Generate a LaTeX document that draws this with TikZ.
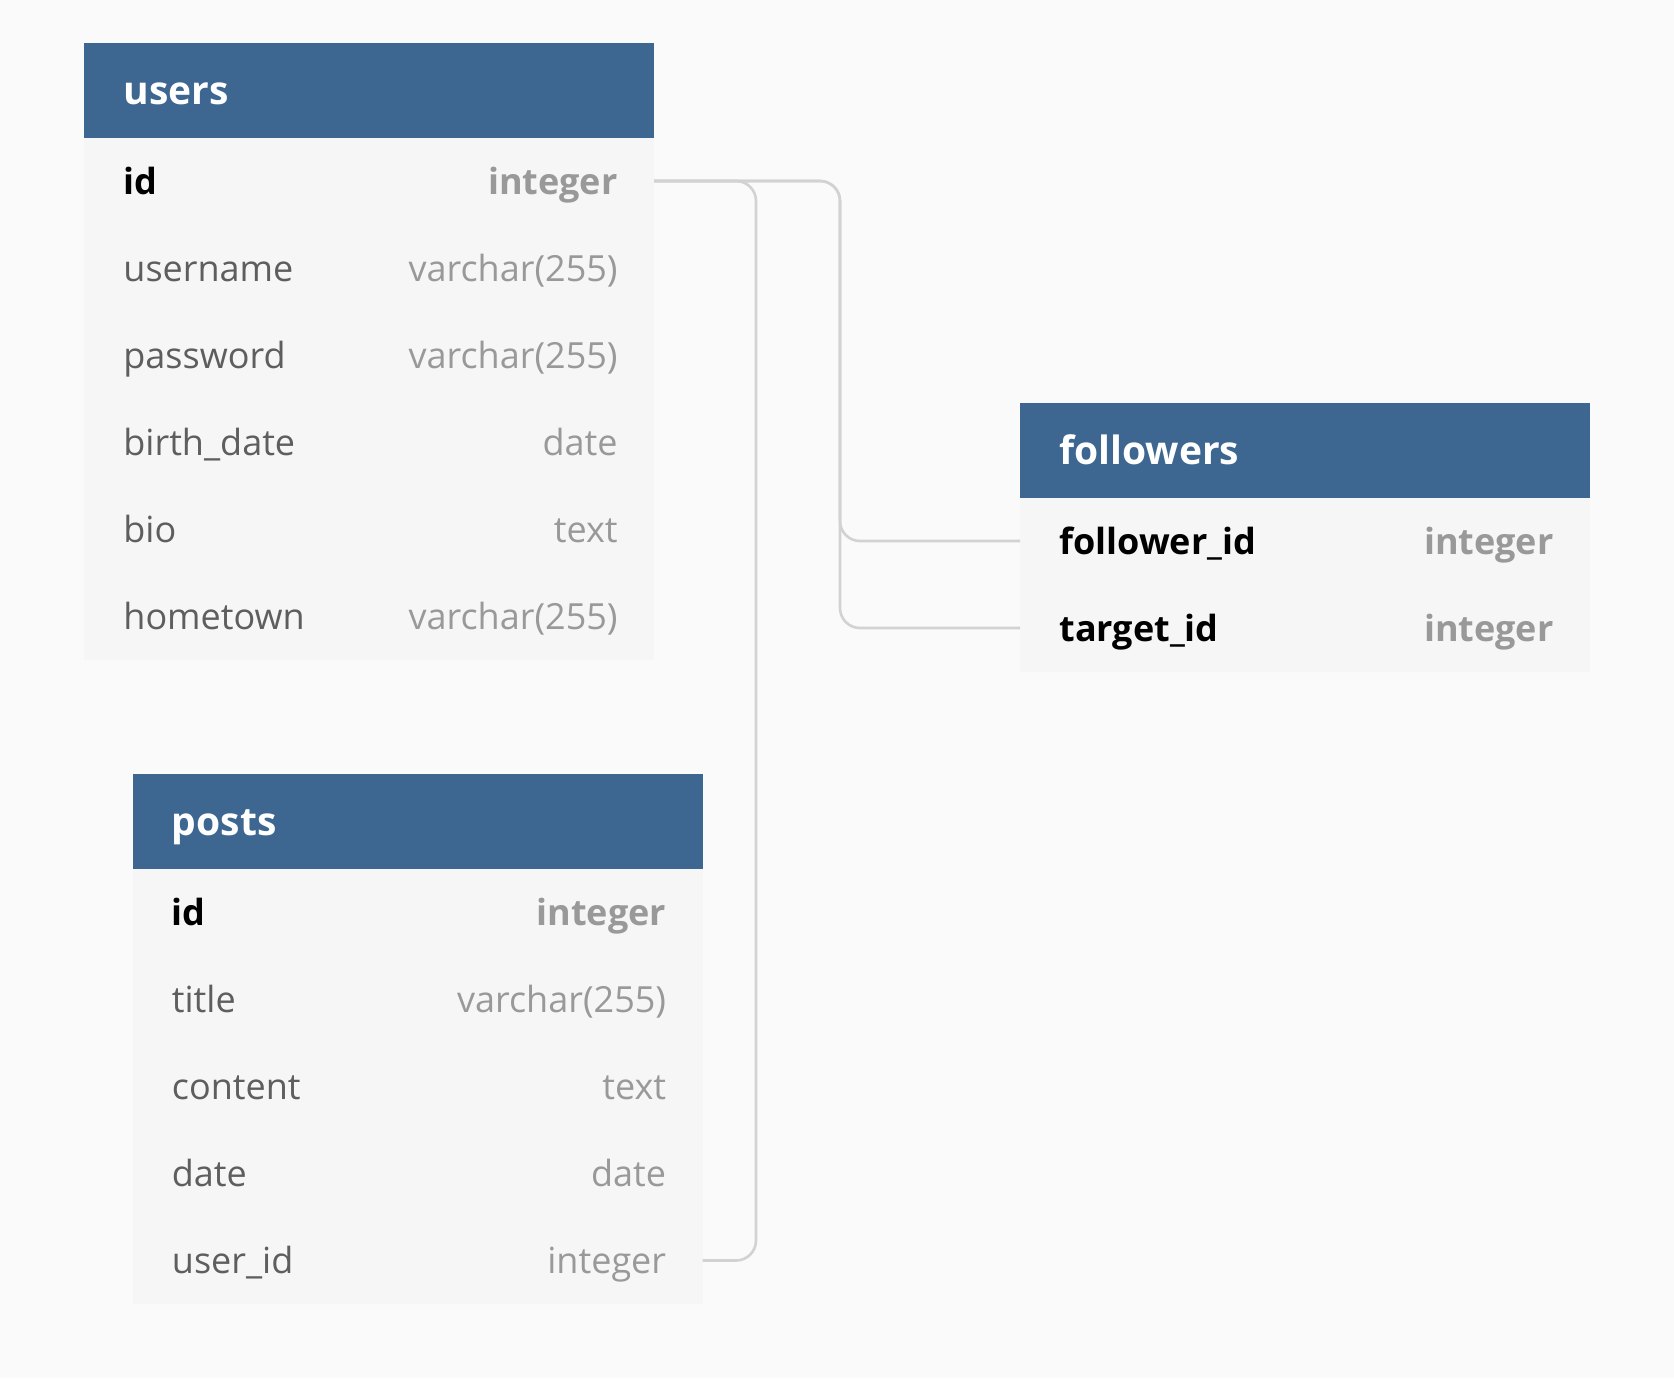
\documentclass[tikz,border=0pt]{standalone}
\usepackage{fontspec}
\setmainfont{Open Sans}
\usetikzlibrary{calc}
\definecolor{bgcol}{HTML}{FAFAFA}
\definecolor{hdrblue}{HTML}{3D6791}
\definecolor{rowbg}{HTML}{F6F6F6}
\definecolor{fieldgray}{HTML}{5E5E5E}
\definecolor{typegray}{HTML}{999999}
\definecolor{linkgray}{HTML}{D2D2D2}
\tikzset{
  hdr/.style={fill=hdrblue, draw=none, minimum width=285pt, minimum height=47.5pt, anchor=north west, inner sep=0pt, outer sep=0pt},
  rowbox/.style={fill=rowbg, draw=none, minimum width=285pt, minimum height=43.5pt, anchor=north west, inner sep=0pt, outer sep=0pt},
  htext/.style={anchor=base west, inner sep=0pt, text=white, font=\fontsize{19.5}{22}\selectfont\bfseries},
  fname/.style={anchor=base west, inner sep=0pt, text=fieldgray, font=\fontsize{18}{20}\selectfont},
  ftype/.style={anchor=base east, inner sep=0pt, text=typegray, font=\fontsize{18}{20}\selectfont},
  kname/.style={fname, text=black, font=\fontsize{18}{20}\selectfont\bfseries},
  ktype/.style={ftype, font=\fontsize{18}{20}\selectfont\bfseries},
  link/.style={draw=linkgray, line width=1.3pt, rounded corners=10pt}
}
% #1 row node, #2 node above, #3 field, #4 type, #5 name style, #6 type style
\newcommand\erdrow[6]{%
  \node[rowbox] (#1) at (#2.south west) {};
  \node[#5] (#1-n) at ($(#1.west)+(39,13)$) {#3};
  \node[#6] (#1-t) at ($(#1.east)+(-36,13)$) {#4};
}
\begin{document}
\begin{tikzpicture}[x=0.5pt,y=-0.5pt]
\useasboundingbox[fill=bgcol] (0,0) rectangle (1674,1378);

% users
\node[hdr] (users) at (84,42.5) {};
\node[htext] (users-title) at ($(users.west)+(39,14)$) {users};
\erdrow{users-r1}{users}{id}{integer}{kname}{ktype}
\erdrow{users-r2}{users-r1}{username}{varchar(255)}{fname}{ftype}
\erdrow{users-r3}{users-r2}{password}{varchar(255)}{fname}{ftype}
\erdrow{users-r4}{users-r3}{birth\_date}{date}{fname}{ftype}
\erdrow{users-r5}{users-r4}{bio}{text}{fname}{ftype}
\erdrow{users-r6}{users-r5}{hometown}{varchar(255)}{fname}{ftype}

% followers
\node[hdr] (followers) at (1020,402.5) {};
\node[htext] (followers-title) at ($(followers.west)+(39,14)$) {followers};
\erdrow{followers-r1}{followers}{follower\_id}{integer}{kname}{ktype}
\erdrow{followers-r2}{followers-r1}{target\_id}{integer}{kname}{ktype}

% posts
\node[hdr] (posts) at (132.5,774) {};
\node[htext] (posts-title) at ($(posts.west)+(39,14)$) {posts};
\erdrow{posts-r1}{posts}{id}{integer}{kname}{ktype}
\erdrow{posts-r2}{posts-r1}{title}{varchar(255)}{fname}{ftype}
\erdrow{posts-r3}{posts-r2}{content}{text}{fname}{ftype}
\erdrow{posts-r4}{posts-r3}{date}{date}{fname}{ftype}
\erdrow{posts-r5}{posts-r4}{user\_id}{integer}{fname}{ftype}

% connectors
\coordinate (busA) at (756,0);
\coordinate (busB) at (840,0);
\draw[link] (posts-r5.east) -- (posts-r5.east -| busA) -- (users-r1.east -| busA) -- (users-r1.east);
\draw[link] (users-r1.east) -- (users-r1.east -| busB) -- (followers-r1.west -| busB) -- (followers-r1.west);
\draw[link] (users-r1.east) -- (users-r1.east -| busB) -- (followers-r2.west -| busB) -- (followers-r2.west);
\end{tikzpicture}
\end{document}
